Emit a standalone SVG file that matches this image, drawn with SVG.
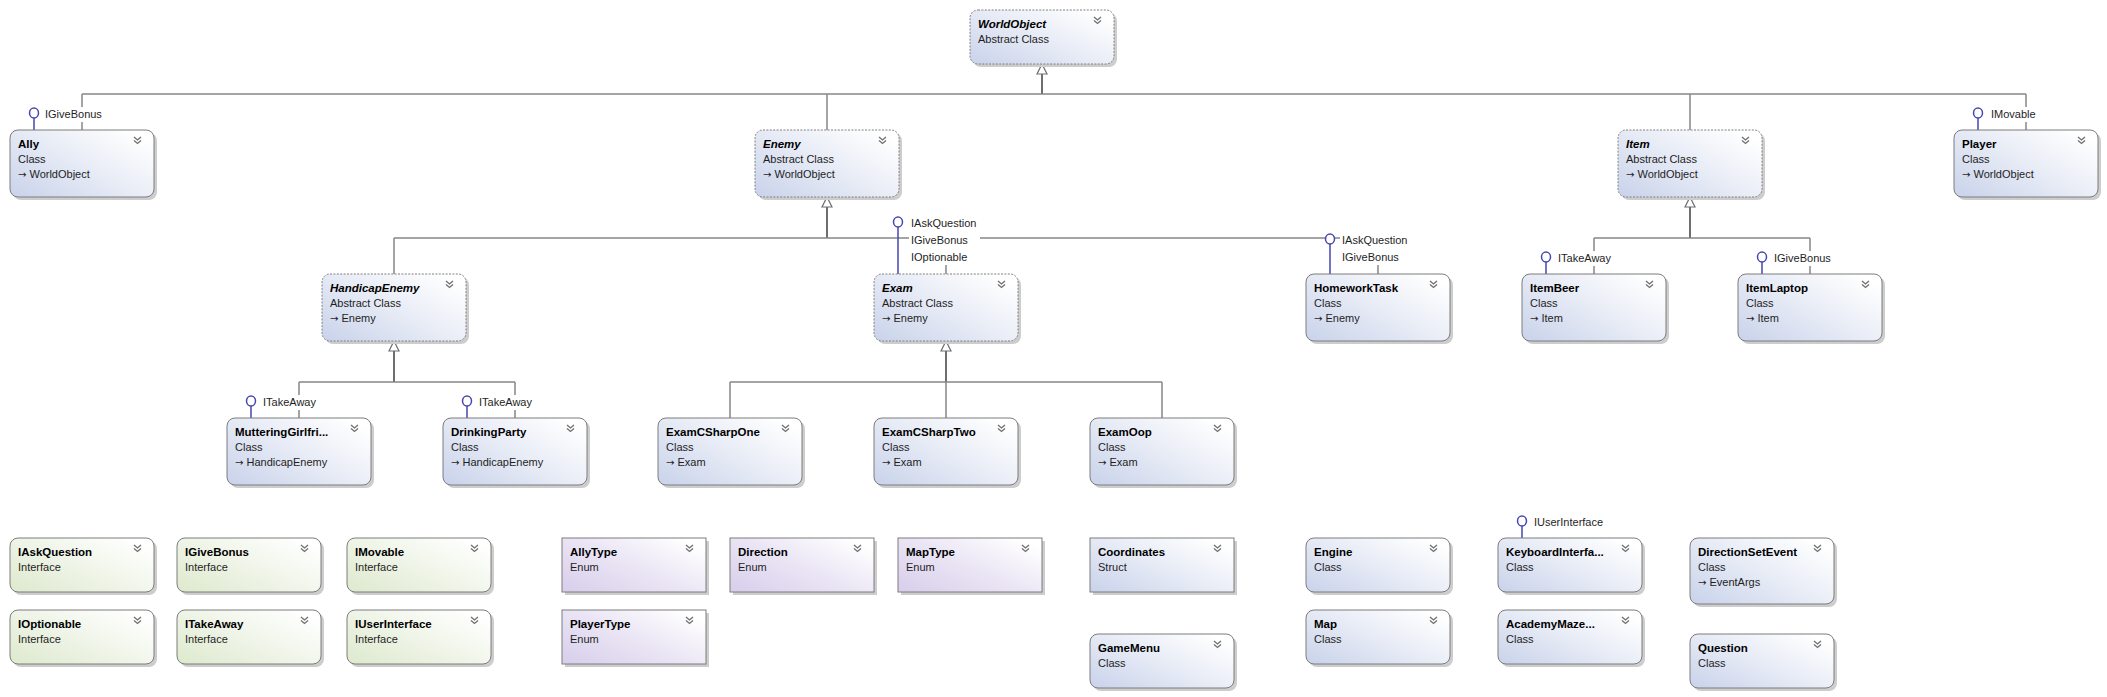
<svg xmlns="http://www.w3.org/2000/svg" width="2107" height="697" viewBox="0 0 2107 697">
<defs>
<linearGradient id="gBlue" x1="0" y1="1" x2="1" y2="0.2"><stop offset="0" stop-color="#C8D2EA"/><stop offset="0.55" stop-color="#E8ECF6"/><stop offset="1" stop-color="#FFFFFF"/></linearGradient>
<linearGradient id="gGreen" x1="0" y1="1" x2="1" y2="0.2"><stop offset="0" stop-color="#DDE9CD"/><stop offset="0.55" stop-color="#F0F5E9"/><stop offset="1" stop-color="#FFFFFF"/></linearGradient>
<linearGradient id="gPurple" x1="0" y1="1" x2="1" y2="0.2"><stop offset="0" stop-color="#D7CEEB"/><stop offset="0.55" stop-color="#EBE6F5"/><stop offset="1" stop-color="#FFFFFF"/></linearGradient>
</defs>
<style>
.sh{fill:#CDCDCD}
.bx{stroke:#7C7C7C;stroke-width:1}
.cls{fill:url(#gBlue)}
.ifc{fill:url(#gGreen)}
.enm{fill:url(#gPurple)}
.abs{stroke-dasharray:2 1.4;stroke:#808080}
.t{font-family:"Liberation Sans",Arial,sans-serif;font-size:11px;fill:#1E1E1E}
.ti{font-family:"Liberation Sans",Arial,sans-serif;font-size:11.5px;font-weight:bold;fill:#000}
.it{font-style:italic}
.ar{font-family:"DejaVu Sans",sans-serif;font-size:10px}
.chev{stroke:#707070;stroke-width:1.3;fill:none}
.bar{stroke:#878787;stroke-width:1.5;fill:none}
.stem{stroke:#6E6E6E;stroke-width:2;fill:none}
.tri{fill:#FFFFFF;stroke:#6E6E6E;stroke-width:1.2}
.lol{stroke:#4646B0;stroke-width:1.5;fill:#FFFFFF}
.lbg{fill:#FFFFFF}
</style>

<g id="connectors">
  <path class="stem" d="M1042 74 V94"/>
  <path class="bar" d="M82 94 H2026 M82 94 V130 M827 94 V130 M1690 94 V130 M2026 94 V130"/>
  <polygon class="tri" points="1042,64 1037,74 1047,74"/>
  <path class="stem" d="M827 207 V238"/>
  <path class="bar" d="M394 238 H1378 M394 238 V274 M946 238 V274 M1378 238 V274"/>
  <polygon class="tri" points="827,197 822,207 832,207"/>
  <path class="stem" d="M1690 207 V238"/>
  <path class="bar" d="M1594 238 H1810 M1594 238 V274 M1810 238 V274"/>
  <polygon class="tri" points="1690,197 1685,207 1695,207"/>
  <path class="stem" d="M394 351 V382"/>
  <path class="bar" d="M299 382 H515 M299 382 V418 M515 382 V418"/>
  <polygon class="tri" points="394,341 389,351 399,351"/>
  <path class="stem" d="M946 351 V382"/>
  <path class="bar" d="M730 382 H1162 M730 382 V418 M946 382 V418 M1162 382 V418"/>
  <polygon class="tri" points="946,341 941,351 951,351"/>

  <rect class="lbg" x="43" y="107" width="61" height="15"/>
  <path class="lol" d="M34 118 V130"/><ellipse class="lol" cx="34" cy="113" rx="4.5" ry="5"/>
  <text class="t" x="45" y="118">IGiveBonus</text>

  <rect class="lbg" x="1989" y="107" width="52" height="15"/>
  <path class="lol" d="M1978 118 V130"/><ellipse class="lol" cx="1978" cy="113" rx="4.5" ry="5"/>
  <text class="t" x="1991" y="118">IMovable</text>

  <rect class="lbg" x="909" y="216" width="71" height="49"/>
  <path class="lol" d="M898 227 V274"/><ellipse class="lol" cx="898" cy="222" rx="4.5" ry="5"/>
  <text class="t" x="911" y="227">IAskQuestion</text>
  <text class="t" x="911" y="244">IGiveBonus</text>
  <text class="t" x="911" y="261">IOptionable</text>

  <rect class="lbg" x="1340" y="233" width="71" height="32"/>
  <path class="lol" d="M1330 244 V274"/><ellipse class="lol" cx="1330" cy="239" rx="4.5" ry="5"/>
  <text class="t" x="1342" y="244">IAskQuestion</text>
  <text class="t" x="1342" y="261">IGiveBonus</text>

  <rect class="lbg" x="1556" y="251" width="59" height="15"/>
  <path class="lol" d="M1546 262 V274"/><ellipse class="lol" cx="1546" cy="257" rx="4.5" ry="5"/>
  <text class="t" x="1558" y="262">ITakeAway</text>

  <rect class="lbg" x="1772" y="251" width="61" height="15"/>
  <path class="lol" d="M1762 262 V274"/><ellipse class="lol" cx="1762" cy="257" rx="4.5" ry="5"/>
  <text class="t" x="1774" y="262">IGiveBonus</text>

  <rect class="lbg" x="261" y="395" width="59" height="15"/>
  <path class="lol" d="M251 406 V418"/><ellipse class="lol" cx="251" cy="401" rx="4.5" ry="5"/>
  <text class="t" x="263" y="406">ITakeAway</text>

  <rect class="lbg" x="477" y="395" width="59" height="15"/>
  <path class="lol" d="M467 406 V418"/><ellipse class="lol" cx="467" cy="401" rx="4.5" ry="5"/>
  <text class="t" x="479" y="406">ITakeAway</text>

  <rect class="lbg" x="1532" y="515" width="76" height="15"/>
  <path class="lol" d="M1522 526 V538"/><ellipse class="lol" cx="1522" cy="521" rx="4.5" ry="5"/>
  <text class="t" x="1534" y="526">IUserInterface</text>
</g>

<g id="WorldObject">
  <rect class="sh" x="973" y="13" width="144" height="54" rx="8"/>
  <rect class="bx cls abs" x="970" y="10" width="144" height="54" rx="8"/>
  <path class="chev" d="M1094 17 l3.5 3 l3.5 -3 M1094 20.5 l3.5 3 l3.5 -3"/>
  <text class="ti it" x="978" y="28">WorldObject</text>
  <text class="t" x="978" y="43">Abstract Class</text>
</g>

<g id="Ally">
  <rect class="sh" x="13" y="133" width="144" height="67" rx="8"/>
  <rect class="bx cls" x="10" y="130" width="144" height="67" rx="8"/>
  <path class="chev" d="M134 137 l3.5 3 l3.5 -3 M134 140.5 l3.5 3 l3.5 -3"/>
  <text class="ti" x="18" y="148">Ally</text>
  <text class="t" x="18" y="163">Class</text>
  <text class="t" x="18" y="178"><tspan class="ar">→</tspan> WorldObject</text>
</g>

<g id="Enemy">
  <rect class="sh" x="758" y="133" width="144" height="67" rx="8"/>
  <rect class="bx cls abs" x="755" y="130" width="144" height="67" rx="8"/>
  <path class="chev" d="M879 137 l3.5 3 l3.5 -3 M879 140.5 l3.5 3 l3.5 -3"/>
  <text class="ti it" x="763" y="148">Enemy</text>
  <text class="t" x="763" y="163">Abstract Class</text>
  <text class="t" x="763" y="178"><tspan class="ar">→</tspan> WorldObject</text>
</g>

<g id="Item">
  <rect class="sh" x="1621" y="133" width="144" height="67" rx="8"/>
  <rect class="bx cls abs" x="1618" y="130" width="144" height="67" rx="8"/>
  <path class="chev" d="M1742 137 l3.5 3 l3.5 -3 M1742 140.5 l3.5 3 l3.5 -3"/>
  <text class="ti it" x="1626" y="148">Item</text>
  <text class="t" x="1626" y="163">Abstract Class</text>
  <text class="t" x="1626" y="178"><tspan class="ar">→</tspan> WorldObject</text>
</g>

<g id="Player">
  <rect class="sh" x="1957" y="133" width="144" height="67" rx="8"/>
  <rect class="bx cls" x="1954" y="130" width="144" height="67" rx="8"/>
  <path class="chev" d="M2078 137 l3.5 3 l3.5 -3 M2078 140.5 l3.5 3 l3.5 -3"/>
  <text class="ti" x="1962" y="148">Player</text>
  <text class="t" x="1962" y="163">Class</text>
  <text class="t" x="1962" y="178"><tspan class="ar">→</tspan> WorldObject</text>
</g>

<g id="HandicapEnemy">
  <rect class="sh" x="325" y="277" width="144" height="67" rx="8"/>
  <rect class="bx cls abs" x="322" y="274" width="144" height="67" rx="8"/>
  <path class="chev" d="M446 281 l3.5 3 l3.5 -3 M446 284.5 l3.5 3 l3.5 -3"/>
  <text class="ti it" x="330" y="292">HandicapEnemy</text>
  <text class="t" x="330" y="307">Abstract Class</text>
  <text class="t" x="330" y="322"><tspan class="ar">→</tspan> Enemy</text>
</g>

<g id="Exam">
  <rect class="sh" x="877" y="277" width="144" height="67" rx="8"/>
  <rect class="bx cls abs" x="874" y="274" width="144" height="67" rx="8"/>
  <path class="chev" d="M998 281 l3.5 3 l3.5 -3 M998 284.5 l3.5 3 l3.5 -3"/>
  <text class="ti it" x="882" y="292">Exam</text>
  <text class="t" x="882" y="307">Abstract Class</text>
  <text class="t" x="882" y="322"><tspan class="ar">→</tspan> Enemy</text>
</g>

<g id="HomeworkTask">
  <rect class="sh" x="1309" y="277" width="144" height="67" rx="8"/>
  <rect class="bx cls" x="1306" y="274" width="144" height="67" rx="8"/>
  <path class="chev" d="M1430 281 l3.5 3 l3.5 -3 M1430 284.5 l3.5 3 l3.5 -3"/>
  <text class="ti" x="1314" y="292">HomeworkTask</text>
  <text class="t" x="1314" y="307">Class</text>
  <text class="t" x="1314" y="322"><tspan class="ar">→</tspan> Enemy</text>
</g>

<g id="ItemBeer">
  <rect class="sh" x="1525" y="277" width="144" height="67" rx="8"/>
  <rect class="bx cls" x="1522" y="274" width="144" height="67" rx="8"/>
  <path class="chev" d="M1646 281 l3.5 3 l3.5 -3 M1646 284.5 l3.5 3 l3.5 -3"/>
  <text class="ti" x="1530" y="292">ItemBeer</text>
  <text class="t" x="1530" y="307">Class</text>
  <text class="t" x="1530" y="322"><tspan class="ar">→</tspan> Item</text>
</g>

<g id="ItemLaptop">
  <rect class="sh" x="1741" y="277" width="144" height="67" rx="8"/>
  <rect class="bx cls" x="1738" y="274" width="144" height="67" rx="8"/>
  <path class="chev" d="M1862 281 l3.5 3 l3.5 -3 M1862 284.5 l3.5 3 l3.5 -3"/>
  <text class="ti" x="1746" y="292">ItemLaptop</text>
  <text class="t" x="1746" y="307">Class</text>
  <text class="t" x="1746" y="322"><tspan class="ar">→</tspan> Item</text>
</g>

<g id="MutteringGirlfriend">
  <rect class="sh" x="230" y="421" width="144" height="67" rx="8"/>
  <rect class="bx cls" x="227" y="418" width="144" height="67" rx="8"/>
  <path class="chev" d="M351 425 l3.5 3 l3.5 -3 M351 428.5 l3.5 3 l3.5 -3"/>
  <text class="ti" x="235" y="436">MutteringGirlfri...</text>
  <text class="t" x="235" y="451">Class</text>
  <text class="t" x="235" y="466"><tspan class="ar">→</tspan> HandicapEnemy</text>
</g>

<g id="DrinkingParty">
  <rect class="sh" x="446" y="421" width="144" height="67" rx="8"/>
  <rect class="bx cls" x="443" y="418" width="144" height="67" rx="8"/>
  <path class="chev" d="M567 425 l3.5 3 l3.5 -3 M567 428.5 l3.5 3 l3.5 -3"/>
  <text class="ti" x="451" y="436">DrinkingParty</text>
  <text class="t" x="451" y="451">Class</text>
  <text class="t" x="451" y="466"><tspan class="ar">→</tspan> HandicapEnemy</text>
</g>

<g id="ExamCSharpOne">
  <rect class="sh" x="661" y="421" width="144" height="67" rx="8"/>
  <rect class="bx cls" x="658" y="418" width="144" height="67" rx="8"/>
  <path class="chev" d="M782 425 l3.5 3 l3.5 -3 M782 428.5 l3.5 3 l3.5 -3"/>
  <text class="ti" x="666" y="436">ExamCSharpOne</text>
  <text class="t" x="666" y="451">Class</text>
  <text class="t" x="666" y="466"><tspan class="ar">→</tspan> Exam</text>
</g>

<g id="ExamCSharpTwo">
  <rect class="sh" x="877" y="421" width="144" height="67" rx="8"/>
  <rect class="bx cls" x="874" y="418" width="144" height="67" rx="8"/>
  <path class="chev" d="M998 425 l3.5 3 l3.5 -3 M998 428.5 l3.5 3 l3.5 -3"/>
  <text class="ti" x="882" y="436">ExamCSharpTwo</text>
  <text class="t" x="882" y="451">Class</text>
  <text class="t" x="882" y="466"><tspan class="ar">→</tspan> Exam</text>
</g>

<g id="ExamOop">
  <rect class="sh" x="1093" y="421" width="144" height="67" rx="8"/>
  <rect class="bx cls" x="1090" y="418" width="144" height="67" rx="8"/>
  <path class="chev" d="M1214 425 l3.5 3 l3.5 -3 M1214 428.5 l3.5 3 l3.5 -3"/>
  <text class="ti" x="1098" y="436">ExamOop</text>
  <text class="t" x="1098" y="451">Class</text>
  <text class="t" x="1098" y="466"><tspan class="ar">→</tspan> Exam</text>
</g>

<g id="IAskQuestion">
  <rect class="sh" x="13" y="541" width="144" height="54" rx="8"/>
  <rect class="bx ifc" x="10" y="538" width="144" height="54" rx="8"/>
  <path class="chev" d="M134 545 l3.5 3 l3.5 -3 M134 548.5 l3.5 3 l3.5 -3"/>
  <text class="ti" x="18" y="556">IAskQuestion</text>
  <text class="t" x="18" y="571">Interface</text>
</g>

<g id="IGiveBonus">
  <rect class="sh" x="180" y="541" width="144" height="54" rx="8"/>
  <rect class="bx ifc" x="177" y="538" width="144" height="54" rx="8"/>
  <path class="chev" d="M301 545 l3.5 3 l3.5 -3 M301 548.5 l3.5 3 l3.5 -3"/>
  <text class="ti" x="185" y="556">IGiveBonus</text>
  <text class="t" x="185" y="571">Interface</text>
</g>

<g id="IMovable">
  <rect class="sh" x="350" y="541" width="144" height="54" rx="8"/>
  <rect class="bx ifc" x="347" y="538" width="144" height="54" rx="8"/>
  <path class="chev" d="M471 545 l3.5 3 l3.5 -3 M471 548.5 l3.5 3 l3.5 -3"/>
  <text class="ti" x="355" y="556">IMovable</text>
  <text class="t" x="355" y="571">Interface</text>
</g>

<g id="IOptionable">
  <rect class="sh" x="13" y="613" width="144" height="54" rx="8"/>
  <rect class="bx ifc" x="10" y="610" width="144" height="54" rx="8"/>
  <path class="chev" d="M134 617 l3.5 3 l3.5 -3 M134 620.5 l3.5 3 l3.5 -3"/>
  <text class="ti" x="18" y="628">IOptionable</text>
  <text class="t" x="18" y="643">Interface</text>
</g>

<g id="ITakeAway">
  <rect class="sh" x="180" y="613" width="144" height="54" rx="8"/>
  <rect class="bx ifc" x="177" y="610" width="144" height="54" rx="8"/>
  <path class="chev" d="M301 617 l3.5 3 l3.5 -3 M301 620.5 l3.5 3 l3.5 -3"/>
  <text class="ti" x="185" y="628">ITakeAway</text>
  <text class="t" x="185" y="643">Interface</text>
</g>

<g id="IUserInterface">
  <rect class="sh" x="350" y="613" width="144" height="54" rx="8"/>
  <rect class="bx ifc" x="347" y="610" width="144" height="54" rx="8"/>
  <path class="chev" d="M471 617 l3.5 3 l3.5 -3 M471 620.5 l3.5 3 l3.5 -3"/>
  <text class="ti" x="355" y="628">IUserInterface</text>
  <text class="t" x="355" y="643">Interface</text>
</g>

<g id="AllyType">
  <rect class="sh" x="565" y="541" width="144" height="54"/>
  <rect class="bx enm" x="562" y="538" width="144" height="54"/>
  <path class="chev" d="M686 545 l3.5 3 l3.5 -3 M686 548.5 l3.5 3 l3.5 -3"/>
  <text class="ti" x="570" y="556">AllyType</text>
  <text class="t" x="570" y="571">Enum</text>
</g>

<g id="Direction">
  <rect class="sh" x="733" y="541" width="144" height="54"/>
  <rect class="bx enm" x="730" y="538" width="144" height="54"/>
  <path class="chev" d="M854 545 l3.5 3 l3.5 -3 M854 548.5 l3.5 3 l3.5 -3"/>
  <text class="ti" x="738" y="556">Direction</text>
  <text class="t" x="738" y="571">Enum</text>
</g>

<g id="MapType">
  <rect class="sh" x="901" y="541" width="144" height="54"/>
  <rect class="bx enm" x="898" y="538" width="144" height="54"/>
  <path class="chev" d="M1022 545 l3.5 3 l3.5 -3 M1022 548.5 l3.5 3 l3.5 -3"/>
  <text class="ti" x="906" y="556">MapType</text>
  <text class="t" x="906" y="571">Enum</text>
</g>

<g id="PlayerType">
  <rect class="sh" x="565" y="613" width="144" height="54"/>
  <rect class="bx enm" x="562" y="610" width="144" height="54"/>
  <path class="chev" d="M686 617 l3.5 3 l3.5 -3 M686 620.5 l3.5 3 l3.5 -3"/>
  <text class="ti" x="570" y="628">PlayerType</text>
  <text class="t" x="570" y="643">Enum</text>
</g>

<g id="Coordinates">
  <rect class="sh" x="1093" y="541" width="144" height="54"/>
  <rect class="bx cls" x="1090" y="538" width="144" height="54"/>
  <path class="chev" d="M1214 545 l3.5 3 l3.5 -3 M1214 548.5 l3.5 3 l3.5 -3"/>
  <text class="ti" x="1098" y="556">Coordinates</text>
  <text class="t" x="1098" y="571">Struct</text>
</g>

<g id="GameMenu">
  <rect class="sh" x="1093" y="637" width="144" height="54" rx="8"/>
  <rect class="bx cls" x="1090" y="634" width="144" height="54" rx="8"/>
  <path class="chev" d="M1214 641 l3.5 3 l3.5 -3 M1214 644.5 l3.5 3 l3.5 -3"/>
  <text class="ti" x="1098" y="652">GameMenu</text>
  <text class="t" x="1098" y="667">Class</text>
</g>

<g id="Engine">
  <rect class="sh" x="1309" y="541" width="144" height="54" rx="8"/>
  <rect class="bx cls" x="1306" y="538" width="144" height="54" rx="8"/>
  <path class="chev" d="M1430 545 l3.5 3 l3.5 -3 M1430 548.5 l3.5 3 l3.5 -3"/>
  <text class="ti" x="1314" y="556">Engine</text>
  <text class="t" x="1314" y="571">Class</text>
</g>

<g id="Map">
  <rect class="sh" x="1309" y="613" width="144" height="54" rx="8"/>
  <rect class="bx cls" x="1306" y="610" width="144" height="54" rx="8"/>
  <path class="chev" d="M1430 617 l3.5 3 l3.5 -3 M1430 620.5 l3.5 3 l3.5 -3"/>
  <text class="ti" x="1314" y="628">Map</text>
  <text class="t" x="1314" y="643">Class</text>
</g>

<g id="KeyboardInterface">
  <rect class="sh" x="1501" y="541" width="144" height="54" rx="8"/>
  <rect class="bx cls" x="1498" y="538" width="144" height="54" rx="8"/>
  <path class="chev" d="M1622 545 l3.5 3 l3.5 -3 M1622 548.5 l3.5 3 l3.5 -3"/>
  <text class="ti" x="1506" y="556">KeyboardInterfa...</text>
  <text class="t" x="1506" y="571">Class</text>
</g>

<g id="AcademyMaze">
  <rect class="sh" x="1501" y="613" width="144" height="54" rx="8"/>
  <rect class="bx cls" x="1498" y="610" width="144" height="54" rx="8"/>
  <path class="chev" d="M1622 617 l3.5 3 l3.5 -3 M1622 620.5 l3.5 3 l3.5 -3"/>
  <text class="ti" x="1506" y="628">AcademyMaze...</text>
  <text class="t" x="1506" y="643">Class</text>
</g>

<g id="DirectionSetEvent">
  <rect class="sh" x="1693" y="541" width="144" height="66" rx="8"/>
  <rect class="bx cls" x="1690" y="538" width="144" height="66" rx="8"/>
  <path class="chev" d="M1814 545 l3.5 3 l3.5 -3 M1814 548.5 l3.5 3 l3.5 -3"/>
  <text class="ti" x="1698" y="556">DirectionSetEvent</text>
  <text class="t" x="1698" y="571">Class</text>
  <text class="t" x="1698" y="586"><tspan class="ar">→</tspan> EventArgs</text>
</g>

<g id="Question">
  <rect class="sh" x="1693" y="637" width="144" height="54" rx="8"/>
  <rect class="bx cls" x="1690" y="634" width="144" height="54" rx="8"/>
  <path class="chev" d="M1814 641 l3.5 3 l3.5 -3 M1814 644.5 l3.5 3 l3.5 -3"/>
  <text class="ti" x="1698" y="652">Question</text>
  <text class="t" x="1698" y="667">Class</text>
</g>
</svg>
